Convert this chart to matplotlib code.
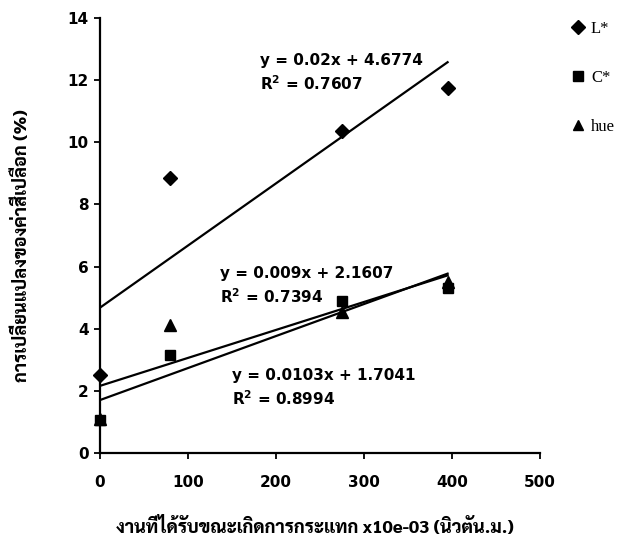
import numpy as np
import matplotlib
matplotlib.use("Agg")
import matplotlib.pyplot as plt

# ข้อมูล: งานที่ได้รับขณะกระแทก กับ การเปลี่ยนแปลงค่าสี
x = np.array([0, 80, 275, 395])
l_star = np.array([2.5, 8.85, 10.35, 11.75])
c_star = np.array([1.05, 3.15, 4.9, 5.3])
hue = np.array([1.1, 4.12, 4.55, 5.5])

# สมการเส้นแนวโน้ม (slope, intercept, R2)
fit_l = (0.02, 4.6774, 0.7607)
fit_hue = (0.009, 2.1607, 0.7394)
fit_c = (0.0103, 1.7041, 0.8994)

thai = ["Sarabun", "DejaVu Sans"]

fig = plt.figure(figsize=(6.28, 5.52), dpi=100)
ax = fig.add_axes([100/628, 99/552, 440/628, 435/552])

mk = dict(color="black", linestyle="none", clip_on=False, zorder=3)
ax.plot(x, l_star, marker="D", markersize=7, label="L*", **mk)
ax.plot(x, c_star, marker="s", markersize=7, label="C*", **mk)
ax.plot(x, hue, marker="^", markersize=8, label="hue", **mk)

# เส้นแนวโน้มเชิงเส้น
xx = np.array([x.min(), x.max()])
for m, b, r2 in (fit_l, fit_hue, fit_c):
    ax.plot(xx, m * xx + b, color="black", linewidth=1.6, zorder=2)

eq_font = dict(family="DejaVu Sans", fontweight="bold", fontsize=11,
               color="black", linespacing=1.4, va="center")
for (m, b, r2), (tx, ty) in zip((fit_l, fit_hue, fit_c),
                                ((182, 12.23), (136, 5.37), (150, 2.09))):
    ax.text(tx, ty, f"y = {m:g}x + {b:g}\n$\\mathregular{{R^2}}$ = {r2:g}",
            **eq_font)

ax.set_xlim(0, 500)
ax.set_ylim(0, 14)
ax.set_xticks([0, 100, 200, 300, 400, 500])
ax.set_yticks(np.arange(0, 15, 2))
for s in ("top", "right"):
    ax.spines[s].set_visible(False)
for s in ("left", "bottom"):
    ax.spines[s].set_linewidth(1.6)
ax.tick_params(axis="both", direction="out", length=4, width=1.3)
ax.tick_params(axis="x", pad=12)
ax.tick_params(axis="y", pad=4)
for lab in ax.get_xticklabels() + ax.get_yticklabels():
    lab.set_fontfamily("DejaVu Sans")
    lab.set_fontweight("bold")
    lab.set_fontsize(11)

fig.text(315/628, 1 - 527/552,
         "งานที่ได้รับขณะเกิดการกระแทก x10e-03 (นิวตัน.ม.)",
         family=thai, fontweight=800, fontsize=13,
         ha="center", va="center")
fig.text(22/628, 1 - 246/552, "การเปลี่ยนแปลงของค่าสีเปลือก (%)",
         family=thai, fontweight=800, fontsize=13,
         rotation=90, ha="center", va="center")

leg = fig.legend(loc="upper left", bbox_to_anchor=(566/628, 1 - 14/552),
                 frameon=False, handlelength=0.6, handletextpad=0.5,
                 labelspacing=2.0, borderaxespad=0,
                 prop={"family": "Liberation Serif", "size": 12})
for h in leg.legend_handles:
    h.set_markersize(7)

fig.savefig("out.png", dpi=100)
